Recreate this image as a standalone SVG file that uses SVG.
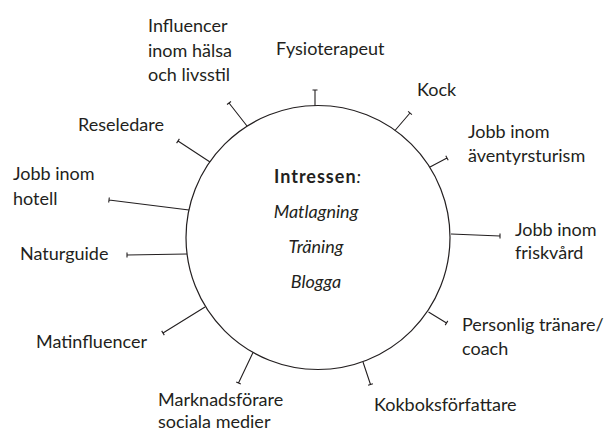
<svg xmlns="http://www.w3.org/2000/svg" width="608" height="432" viewBox="0 0 608 432">
<style>
.lbl{font-family:Lato,"Open Sans","Liberation Sans",sans-serif;font-size:18px;fill:#231f20}
.ctr{font-family:Lato,"Open Sans","Liberation Sans",sans-serif;font-size:18px;fill:#231f20;text-anchor:middle}
.c{fill:none;stroke:#231f20;stroke-width:1.2}
.ln{stroke:#231f20;stroke-width:1.1;fill:none}
</style>
<rect width="608" height="432" fill="#fff"/>
<g id="center">
<circle class="c" cx="318" cy="237.5" r="132"/>
<text class="ctr" x="318" y="183" letter-spacing="1"><tspan font-weight="bold">Intressen</tspan><tspan font-style="italic">:</tspan></text>
<text class="ctr" x="316" y="218" font-style="italic">Matlagning</text>
<text class="ctr" x="316" y="253" font-style="italic">Träning</text>
<text class="ctr" x="316" y="288" font-style="italic">Blogga</text>
</g>
<g id="connectors" class="ln">
<path d="M315,106 L315,90 M312.5,90 L317.5,90"/>
<path d="M247,126 L229,103 M231,101.5 L227,104.5"/>
<path d="M210,162 L178,141 M179.4,138.9 L176.6,143.1"/>
<path d="M395,130.5 L410,113 M411.9,114.6 L408.1,111.4"/>
<path d="M430,167 L447,158 M448.2,160.2 L445.8,155.8"/>
<path d="M451,234 L500,236 M500,233.5 L500,238.5"/>
<path d="M189,210 L109,200 M109.3,197.5 L108.7,202.5"/>
<path d="M187,254 L127,255 M127,252.5 L127,257.5"/>
<path d="M205,307 L163,333 M161.7,330.9 L164.3,335.1"/>
<path d="M253,352.5 L238.5,383 M236.2,381.9 L240.8,384.1"/>
<path d="M428.5,312 L446.5,323 M447.8,320.9 L445.2,325.1"/>
<path d="M363,362 L370.5,384.5 M372.9,383.7 L368.1,385.3"/>
</g>
<g id="fysioterapeut"><text class="lbl" x="276" y="55">Fysioterapeut</text></g>
<g id="influencer"><text class="lbl" x="148" y="32">Influencer</text><text class="lbl" x="148" y="57">inom hälsa</text><text class="lbl" x="148" y="81">och livsstil</text></g>
<g id="reseledare"><text class="lbl" x="78" y="131">Reseledare</text></g>
<g id="kock"><text class="lbl" x="417" y="96">Kock</text></g>
<g id="aventyr"><text class="lbl" x="468" y="138">Jobb inom</text><text class="lbl" x="468" y="162">äventyrsturism</text></g>
<g id="friskvard"><text class="lbl" x="515" y="236">Jobb inom</text><text class="lbl" x="515" y="259">friskvård</text></g>
<g id="hotell"><text class="lbl" x="13" y="180">Jobb inom</text><text class="lbl" x="13" y="205">hotell</text></g>
<g id="naturguide"><text class="lbl" x="20" y="260">Naturguide</text></g>
<g id="matinfluencer"><text class="lbl" x="36" y="348">Matinfluencer</text></g>
<g id="marknadsforare"><text class="lbl" x="158" y="406">Marknadsförare</text><text class="lbl" x="158" y="428">sociala medier</text></g>
<g id="personlig"><text class="lbl" x="462" y="331">Personlig tränare/</text><text class="lbl" x="462" y="355">coach</text></g>
<g id="kokbok"><text class="lbl" x="374" y="411">Kokboksförfattare</text></g>
</svg>
